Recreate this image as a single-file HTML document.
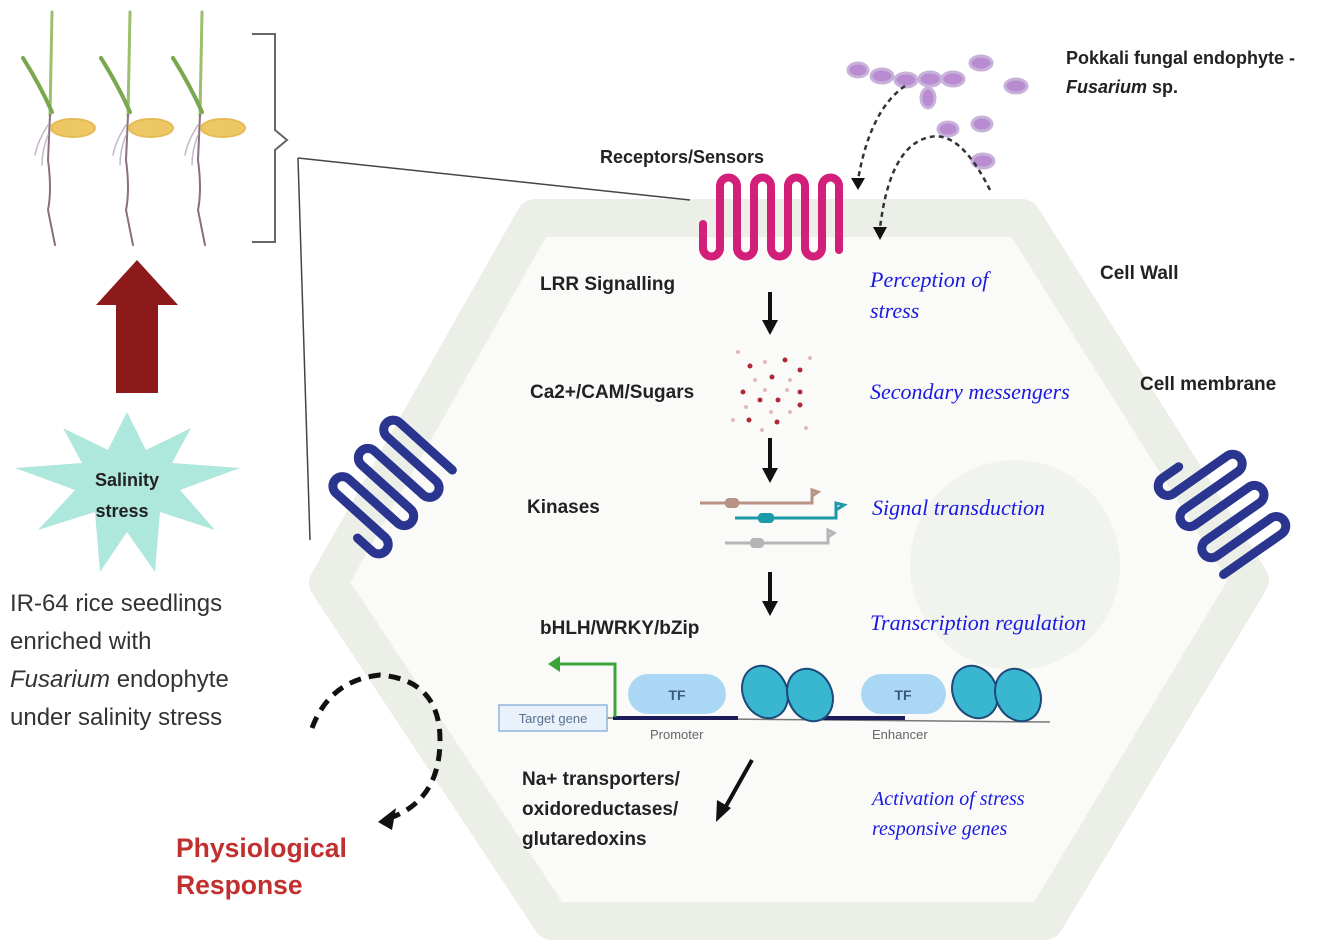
<!DOCTYPE html>
<html><head><meta charset="utf-8"><style>
html,body{margin:0;padding:0;background:#fff;}
svg{display:block;font-family:"Liberation Sans",sans-serif;}
.b{font-weight:bold;fill:#222;font-size:19px;}
.i{font-family:"Liberation Serif",serif;font-style:italic;fill:#1a1ae0;font-size:22px;}
</style></head><body>
<svg width="1340" height="949" viewBox="0 0 1340 949" xmlns="http://www.w3.org/2000/svg">
<!-- cell -->
<polygon points="535,218 1022,218 1250,580 1045,921 552,921 328,583" fill="#fafbf8" stroke="#ebefe8" stroke-width="38" stroke-linejoin="round"/>
<circle cx="1015" cy="565" r="105" fill="#f1f3ef"/>
<!-- seedlings -->
<g stroke-linecap="round" fill="none">
 <g id="sd">
  <path d="M52,12 L50,115" stroke="#9cbf6c" stroke-width="3"/>
  <path d="M23,58 Q40,85 52,112" stroke="#7aa850" stroke-width="4"/>
  <path d="M50,115 L48,160 Q52,190 48,210 Q52,230 55,245" stroke="#8a7080" stroke-width="2"/>
  <path d="M48,125 Q38,140 35,155 M48,135 Q42,150 42,165" stroke="#c4b8c8" stroke-width="1.5"/>
  <ellipse cx="73" cy="128" rx="22" ry="9" fill="#ecc763" stroke="#e6bb55" stroke-width="2"/>
 </g>
 <use href="#sd" x="78"/>
 <use href="#sd" x="150"/>
</g>
<!-- bracket -->
<path d="M252,34 L275,34 L275,130 L287,140 L275,150 L275,242 L252,242" fill="none" stroke="#666" stroke-width="2"/>
<path d="M298,158 L690,200 M298,158 L310,540" stroke="#444" stroke-width="1.5" fill="none"/>
<!-- red arrow -->
<polygon points="137,260 178,305 158,305 158,393 116,393 116,305 96,305" fill="#8c1a1a"/>
<!-- star -->
<polygon points="127,412 146,450 191,428 172,463 240,468 180,490 215,530 160,512 155,572 127,532 100,572 95,512 38,530 75,490 15,468 82,463 63,428 108,450" fill="#aee7dc"/>
<text x="127" y="486" text-anchor="middle" class="b" style="font-size:18px">Salinity</text>
<text x="122" y="517" text-anchor="middle" class="b" style="font-size:18px">stress</text>
<g font-size="24" fill="#333">
<text x="10" y="611">IR-64 rice seedlings</text>
<text x="10" y="649">enriched with</text>
<text x="10" y="687"><tspan font-style="italic">Fusarium</tspan> endophyte</text>
<text x="10" y="725">under salinity stress</text>
</g>
<text x="176" y="857" fill="#c0302e" font-weight="bold" font-size="26.5">Physiological</text>
<text x="176" y="894" fill="#c0302e" font-weight="bold" font-size="26.5">Response</text>
<!-- dashed circular arrow -->
<path d="M312,728 Q330,680 380,675 Q440,680 440,740 Q440,800 390,818" fill="none" stroke="#111" stroke-width="5" stroke-dasharray="12,8"/>
<polygon points="378,822 396,808 392,830" fill="#111"/>
<!-- receptor -->
<path d="M703,224 L703,248 A8.5,8.5 0 0 0 720,248 L720,186 A8.5,8.5 0 0 1 737,186 L737,248 A8.5,8.5 0 0 0 754,248 L754,186 A8.5,8.5 0 0 1 771,186 L771,248 A8.5,8.5 0 0 0 788,248 L788,186 A8.5,8.5 0 0 1 805,186 L805,248 A8.5,8.5 0 0 0 822,248 L822,186 A8.5,8.5 0 0 1 839,186 L839,250" fill="none" stroke="#d21f79" stroke-width="8" stroke-linecap="round"/>
<!-- side coils -->
<g fill="none" stroke="#2a3590" stroke-width="9" stroke-linecap="round">
<path transform="translate(386,487) rotate(-48)" d="M-57,13 L-57,33 A9.5,9.5 0 0 0 -38,33 L-38,-33 A9.5,9.5 0 0 1 -19,-33 L-19,33 A9.5,9.5 0 0 0 0,33 L0,-33 A9.5,9.5 0 0 1 19,-33 L19,33 A9.5,9.5 0 0 0 38,33 L38,-33 A9.5,9.5 0 0 1 57,-33 L57,38"/>
<path transform="translate(1222,506) rotate(55)" d="M-57,13 L-57,33 A9.5,9.5 0 0 0 -38,33 L-38,-33 A9.5,9.5 0 0 1 -19,-33 L-19,33 A9.5,9.5 0 0 0 0,33 L0,-33 A9.5,9.5 0 0 1 19,-33 L19,33 A9.5,9.5 0 0 0 38,33 L38,-33 A9.5,9.5 0 0 1 57,-33 L57,38"/>
</g>
<!-- fungus -->
<g fill="#b98bd0" stroke="#c9b2da" stroke-width="3">
<ellipse cx="858" cy="70" rx="10" ry="7"/><ellipse cx="882" cy="76" rx="11" ry="7"/><ellipse cx="906" cy="80" rx="11" ry="7"/><ellipse cx="930" cy="79" rx="11" ry="7"/><ellipse cx="953" cy="79" rx="11" ry="7"/>
<ellipse cx="928" cy="98" rx="7" ry="10"/><ellipse cx="981" cy="63" rx="11" ry="7"/><ellipse cx="1016" cy="86" rx="11" ry="7"/>
<ellipse cx="948" cy="129" rx="10" ry="7"/><ellipse cx="982" cy="124" rx="10" ry="7"/><ellipse cx="983" cy="161" rx="11" ry="7"/>
</g>
<path d="M905,86 Q870,110 858,180" fill="none" stroke="#333" stroke-width="2.5" stroke-dasharray="5,4"/>
<polygon points="851,178 865,178 858,190" fill="#111"/>
<path d="M990,190 Q960,130 930,137 Q890,145 880,228" fill="none" stroke="#333" stroke-width="2.5" stroke-dasharray="5,4"/>
<polygon points="873,227 887,227 880,240" fill="#111"/>
<text x="1066" y="64" class="b" style="font-size:18px">Pokkali fungal endophyte -</text>
<text x="1066" y="93" class="b" style="font-size:18px"><tspan font-style="italic">Fusarium</tspan> sp.</text>
<!-- labels -->
<text x="600" y="163" class="b" style="font-size:18px">Receptors/Sensors</text>
<text x="540" y="290" class="b">LRR Signalling</text>
<text x="530" y="398" class="b">Ca2+/CAM/Sugars</text>
<text x="527" y="513" class="b">Kinases</text>
<text x="540" y="634" class="b">bHLH/WRKY/bZip</text>
<text x="522" y="785" class="b">Na+ transporters/</text>
<text x="522" y="815" class="b">oxidoreductases/</text>
<text x="522" y="845" class="b">glutaredoxins</text>
<text x="1100" y="279" class="b">Cell Wall</text>
<text x="1140" y="390" class="b">Cell membrane</text>
<text x="870" y="287" class="i">Perception of</text>
<text x="870" y="318" class="i">stress</text>
<text x="870" y="399" class="i">Secondary messengers</text>
<text x="872" y="515" class="i">Signal transduction</text>
<text x="870" y="630" class="i">Transcription regulation</text>
<text x="872" y="805" class="i" style="font-size:20px">Activation of stress</text>
<text x="872" y="835" class="i" style="font-size:20px">responsive genes</text>
<!-- arrows -->
<g stroke="#111" stroke-width="4">
<line x1="770" y1="292" x2="770" y2="322"/><line x1="770" y1="438" x2="770" y2="470"/><line x1="770" y1="572" x2="770" y2="603"/><line x1="752" y1="760" x2="725" y2="808"/>
</g>
<g fill="#111">
<polygon points="762,320 778,320 770,335"/><polygon points="762,468 778,468 770,483"/><polygon points="762,601 778,601 770,616"/><polygon points="717,800 731,808 716,822"/>
</g>
<!-- dots -->
<g fill="#b0283a">
<circle cx="750" cy="366" r="2.5"/><circle cx="785" cy="360" r="2.5"/><circle cx="772" cy="377" r="2.5"/><circle cx="743" cy="392" r="2.5"/><circle cx="800" cy="370" r="2.5"/><circle cx="760" cy="400" r="2.5"/><circle cx="778" cy="400" r="2.5"/><circle cx="800" cy="392" r="2.5"/><circle cx="749" cy="420" r="2.5"/><circle cx="777" cy="422" r="2.5"/><circle cx="800" cy="405" r="2.5"/>
</g>
<g fill="#e0b8c0">
<circle cx="738" cy="352" r="2"/><circle cx="765" cy="362" r="2"/><circle cx="810" cy="358" r="2"/><circle cx="790" cy="380" r="2"/><circle cx="755" cy="380" r="2"/><circle cx="765" cy="390" r="2"/><circle cx="787" cy="390" r="2"/><circle cx="746" cy="407" r="2"/><circle cx="771" cy="412" r="2"/><circle cx="790" cy="412" r="2"/><circle cx="733" cy="420" r="2"/><circle cx="762" cy="430" r="2"/><circle cx="806" cy="428" r="2"/>
</g>
<!-- kinases -->
<g stroke-width="3" fill="none">
<path d="M700,503 L812,503 L812,490 L818,492 L812,496" stroke="#b89283"/>
<path d="M735,518 L836,518 L836,503 L844,505 L836,510" stroke="#1d9aaa"/>
<path d="M725,543 L828,543 L828,530 L834,533 L828,537" stroke="#b5b5b5"/>
</g>
<rect x="725" y="498" width="14" height="10" rx="4" fill="#b89283"/>
<rect x="758" y="513" width="16" height="10" rx="4" fill="#1d9aaa"/>
<rect x="750" y="538" width="14" height="10" rx="4" fill="#b5b5b5"/>
<!-- DNA -->
<path d="M607,718 L1050,722" stroke="#777" stroke-width="1.5"/>
<line x1="613" y1="718" x2="738" y2="718" stroke="#1b1b5a" stroke-width="4"/>
<line x1="818" y1="718" x2="905" y2="718" stroke="#1b1b5a" stroke-width="4"/>
<path d="M615,717 L615,664 L556,664" fill="none" stroke="#3aa43a" stroke-width="3"/>
<polygon points="548,664 560,656 560,672" fill="#3aa43a"/>
<rect x="499" y="705" width="108" height="26" fill="#e9f1fb" stroke="#8eb4de" stroke-width="1.5"/>
<text x="553" y="723" text-anchor="middle" font-size="13" fill="#5a7090">Target gene</text>
<text x="650" y="739" font-size="13" fill="#666">Promoter</text>
<text x="872" y="739" font-size="13" fill="#666">Enhancer</text>
<rect x="628" y="674" width="98" height="40" rx="20" fill="#aad8f4"/>
<rect x="861" y="674" width="85" height="40" rx="20" fill="#aad8f4"/>
<text x="677" y="700" text-anchor="middle" font-size="14" font-weight="bold" fill="#3a5a80">TF</text>
<text x="903" y="700" text-anchor="middle" font-size="14" font-weight="bold" fill="#3a5a80">TF</text>
<g fill="#39b6d0" stroke="#1d4a7a" stroke-width="2">
<ellipse cx="765" cy="692" rx="22" ry="27" transform="rotate(-25 765 692)"/>
<ellipse cx="810" cy="695" rx="22" ry="27" transform="rotate(-25 810 695)"/>
<ellipse cx="975" cy="692" rx="22" ry="27" transform="rotate(-25 975 692)"/>
<ellipse cx="1018" cy="695" rx="22" ry="27" transform="rotate(-25 1018 695)"/>
</g>
</svg>
</body></html>
